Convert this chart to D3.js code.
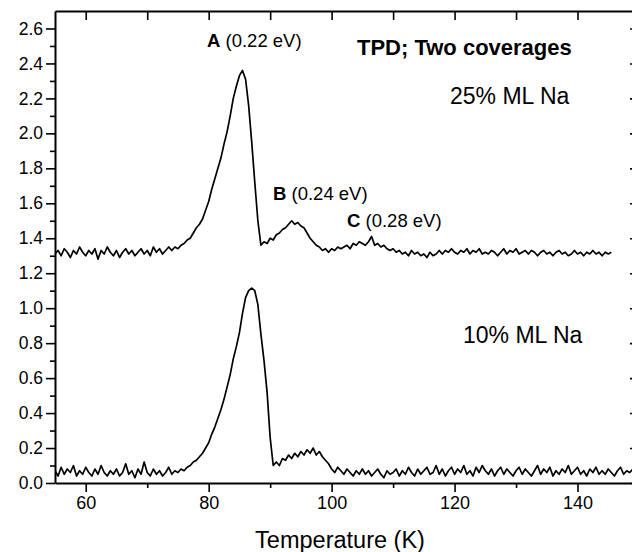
<!DOCTYPE html>
<html>
<head>
<meta charset="utf-8">
<script src="https://cdn.jsdelivr.net/npm/d3@7"></script>
<style>
  body { margin: 0; background: #fff; }
  svg { display: block; font-family: "Liberation Sans", Arial, sans-serif; }
</style>
</head>
<body>
<div id="chart"></div>
<script>
// --- TPD data (temperature grid in K, signal in arb. units) ---
const tempStart = 55;
const tempStep = 0.5;

// 25% ML Na, 55 K .. 145.5 K
const cover25 = [
  1.31,1.33,1.30,1.34,1.32,1.29,1.33,1.31,1.35,1.32,
  1.30,1.33,1.31,1.34,1.28,1.33,1.31,1.35,1.32,1.30,
  1.33,1.29,1.32,1.34,1.31,1.33,1.30,1.32,1.34,1.31,
  1.33,1.30,1.35,1.32,1.34,1.31,1.33,1.35,1.33,1.35,
  1.34,1.36,1.37,1.39,1.40,1.43,1.46,1.48,1.51,1.56,
  1.61,1.68,1.74,1.80,1.86,1.94,2.01,2.10,2.20,2.27,
  2.33,2.36,2.31,2.16,1.95,1.72,1.50,1.36,1.38,1.37,
  1.40,1.39,1.42,1.43,1.45,1.46,1.48,1.50,1.48,1.49,
  1.47,1.46,1.43,1.40,1.38,1.36,1.35,1.33,1.34,1.32,
  1.34,1.33,1.35,1.34,1.35,1.36,1.34,1.37,1.36,1.38,
  1.37,1.36,1.38,1.41,1.36,1.37,1.35,1.36,1.34,1.33,
  1.34,1.32,1.33,1.31,1.32,1.30,1.33,1.31,1.32,1.30,
  1.31,1.29,1.32,1.30,1.31,1.33,1.31,1.33,1.32,1.34,
  1.32,1.31,1.33,1.32,1.34,1.31,1.33,1.32,1.34,1.31,
  1.32,1.31,1.33,1.32,1.30,1.32,1.34,1.31,1.33,1.32,
  1.34,1.31,1.32,1.33,1.31,1.33,1.32,1.30,1.32,1.33,
  1.31,1.32,1.30,1.32,1.33,1.31,1.32,1.30,1.31,1.33,
  1.31,1.32,1.30,1.32,1.31,1.33,1.31,1.32,1.30,1.32,
  1.31,1.32
];

// 10% ML Na, 55 K .. 150 K
const cover10 = [
  0.07,0.04,0.09,0.05,0.08,0.06,0.10,0.04,0.07,0.05,
  0.09,0.06,0.04,0.08,0.05,0.10,0.06,0.04,0.07,0.05,
  0.08,0.04,0.06,0.11,0.05,0.07,0.03,0.08,0.05,0.12,
  0.06,0.04,0.08,0.05,0.07,0.04,0.06,0.09,0.05,0.07,
  0.06,0.08,0.07,0.09,0.10,0.12,0.13,0.15,0.17,0.20,
  0.23,0.28,0.32,0.37,0.42,0.48,0.55,0.62,0.71,0.78,
  0.86,0.97,1.06,1.10,1.115,1.10,1.02,0.85,0.70,0.52,
  0.26,0.10,0.12,0.10,0.14,0.13,0.16,0.14,0.17,0.15,
  0.18,0.16,0.19,0.17,0.20,0.16,0.18,0.15,0.13,0.11,
  0.08,0.06,0.09,0.07,0.05,0.08,0.06,0.04,0.07,0.05,
  0.08,0.05,0.07,0.04,0.06,0.08,0.05,0.03,0.07,0.05,
  0.06,0.08,0.04,0.07,0.05,0.09,0.06,0.04,0.08,0.05,
  0.07,0.09,0.05,0.06,0.10,0.05,0.08,0.04,0.07,0.09,
  0.05,0.08,0.06,0.10,0.05,0.07,0.04,0.09,0.06,0.10,
  0.07,0.05,0.08,0.04,0.07,0.09,0.05,0.08,0.06,0.04,
  0.07,0.09,0.05,0.08,0.06,0.04,0.07,0.10,0.05,0.08,
  0.06,0.09,0.04,0.07,0.05,0.08,0.06,0.10,0.05,0.07,
  0.09,0.05,0.07,0.04,0.08,0.06,0.09,0.05,0.07,0.05,
  0.08,0.06,0.04,0.07,0.09,0.05,0.07,0.06,0.08,0.05,
  0.07
];

const xTicks = [60, 80, 100, 120, 140];
const yTicks = [0, 0.2, 0.4, 0.6, 0.8, 1.0, 1.2, 1.4, 1.6, 1.8, 2.0, 2.2, 2.4, 2.6];

const peakLabels = [
  { bold: "A", rest: " (0.22 eV)", x: 207, y: 47 },
  { bold: "B", rest: " (0.24 eV)", x: 273, y: 200 },
  { bold: "C", rest: " (0.28 eV)", x: 347, y: 227 }
];

// --- Setup ---
const W = 632, H = 552;
const svg = d3.select("#chart").append("svg")
  .attr("width", W).attr("height", H);

const x = d3.scaleLinear().domain([55, 150]).range([55, 639]);
const y = d3.scaleLinear().domain([0, 2.7]).range([483, 11]);

const toPoints = vals => vals.map((v, i) => [tempStart + i * tempStep, v]);

svg.append("clipPath").attr("id", "plot-clip")
  .append("rect")
  .attr("x", x(55)).attr("y", y(2.7))
  .attr("width", x(150) - x(55)).attr("height", y(0) - y(2.7));

const line = d3.line().x(d => x(d[0])).y(d => y(d[1]));

svg.append("g").attr("clip-path", "url(#plot-clip)")
  .selectAll("path")
  .data([toPoints(cover25), toPoints(cover10)])
  .join("path")
  .attr("d", line)
  .attr("fill", "none")
  .attr("stroke", "#000")
  .attr("stroke-width", 1.7)
  .attr("stroke-linejoin", "round");

// --- Axes ---
const minorX = d3.range(60, 151, 10).filter(t => !xTicks.includes(t));
const minorY = d3.range(1, 27).map(i => i / 10).filter((t, i) => i % 2 === 0);

const styleAxis = g => {
  g.selectAll(".domain").attr("stroke", "#000").attr("stroke-width", 2);
  g.selectAll(".tick line").attr("stroke", "#000").attr("stroke-width", 1.6);
  g.selectAll("text").attr("fill", "#000");
};

// bottom
svg.append("g")
  .attr("transform", `translate(0,${y(0)})`)
  .call(d3.axisBottom(x).tickValues(xTicks).tickSize(9).tickSizeOuter(0).tickPadding(4))
  .call(styleAxis)
  .call(g => g.selectAll("text").style("font-size", "18px"));
svg.append("g")
  .attr("transform", `translate(0,${y(0)})`)
  .call(d3.axisBottom(x).tickValues(minorX).tickSize(5).tickFormat(""))
  .call(styleAxis)
  .call(g => g.select(".domain").remove());

// top
svg.append("g")
  .attr("transform", `translate(0,${y(2.7)})`)
  .call(d3.axisBottom(x).tickValues(d3.range(60, 151, 10)).tickSize(9).tickSizeOuter(0).tickFormat(""))
  .call(styleAxis);

// left
svg.append("g")
  .attr("transform", `translate(${x(55)},0)`)
  .call(d3.axisLeft(y).tickValues(yTicks).tickSize(9).tickSizeOuter(0).tickPadding(3)
    .tickFormat(d3.format(".1f")))
  .call(styleAxis)
  .call(g => g.selectAll("text").style("font-size", "17.5px"));
svg.append("g")
  .attr("transform", `translate(${x(55)},0)`)
  .call(d3.axisLeft(y).tickValues(minorY).tickSize(5).tickFormat(""))
  .call(styleAxis)
  .call(g => g.select(".domain").remove());

// right
svg.append("g")
  .attr("transform", `translate(${x(150)},0)`)
  .call(d3.axisLeft(y).tickValues(yTicks).tickSize(9).tickSizeOuter(0).tickFormat(""))
  .call(g => g.selectAll(".tick line").attr("x2", -9))
  .call(styleAxis);

// --- Labels ---
svg.append("text")
  .attr("x", 340).attr("y", 548)
  .attr("text-anchor", "middle")
  .style("font-size", "23.5px")
  .text("Temperature (K)");

const pl = svg.selectAll(".peak").data(peakLabels).join("text")
  .attr("class", "peak")
  .attr("x", d => d.x).attr("y", d => d.y)
  .style("font-size", "18.5px");
pl.append("tspan").style("font-weight", "bold").text(d => d.bold);
pl.append("tspan").text(d => d.rest);

svg.append("text")
  .attr("x", 357).attr("y", 55)
  .style("font-size", "22px").style("font-weight", "bold")
  .text("TPD; Two coverages");

svg.append("text")
  .attr("x", 450).attr("y", 104)
  .style("font-size", "23px")
  .text("25% ML Na");

svg.append("text")
  .attr("x", 463).attr("y", 343)
  .style("font-size", "23px")
  .text("10% ML Na");
</script>
</body>
</html>
